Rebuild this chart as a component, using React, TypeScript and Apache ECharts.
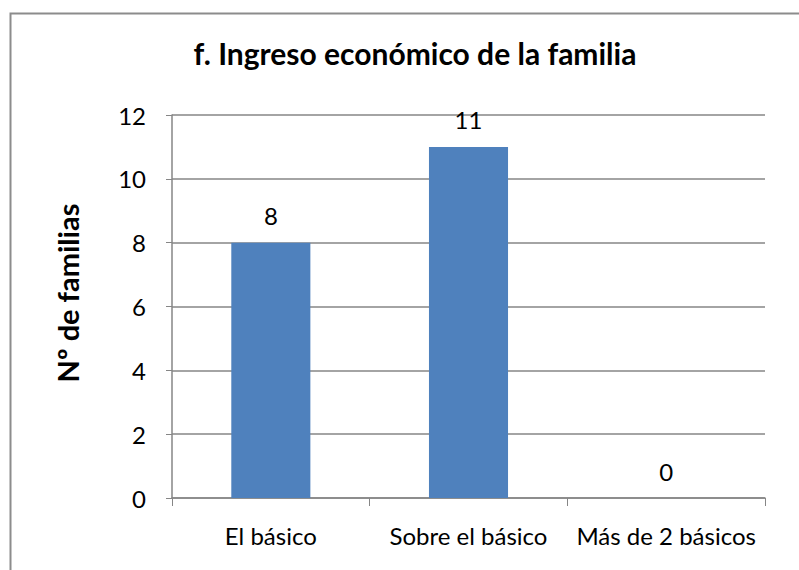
import React, { useEffect, useRef } from "react";
import * as echarts from "echarts";

const categories = ["El básico", "Sobre el básico", "Más de 2 básicos"];
const values = [8, 11, 0];
const yTicks = { min: 0, max: 12, interval: 2 };
const titleText = "f. Ingreso económico de la familia";
const yAxisName = "Nº de familias";

export default function App() {
  const ref = useRef<HTMLDivElement>(null);
  useEffect(() => {
    if (!ref.current) return;
    const chart = echarts.init(ref.current, null, { renderer: "svg" });
    const font = "Lato, 'Open Sans', sans-serif";
    chart.setOption({
      animation: false,
      backgroundColor: "#ffffff",
      textStyle: { fontFamily: font },
      title: {
        text: titleText,
        left: 410,
        top: 33,
        textAlign: "center",
        textStyle: { fontSize: 30, fontWeight: "bold", color: "#000", fontFamily: font },
      },
      graphic: [
        {
          type: "rect",
          shape: { x: 10.5, y: 13.5, width: 900, height: 700 },
          style: { fill: "none", stroke: "#8c8c8c", lineWidth: 2 },
          silent: true,
        },
        {
          type: "text",
          x: 67,
          y: 293,
          rotation: Math.PI / 2,
          style: {
            text: yAxisName,
            fontSize: 29,
            fontWeight: "bold",
            fill: "#000",
            fontFamily: font,
            align: "center",
            verticalAlign: "middle",
          },
          silent: true,
        },
      ],
      grid: { left: 172, right: 34, top: 115, bottom: 72, containLabel: false },
      xAxis: {
        type: "category",
        data: categories,
        axisLine: { lineStyle: { color: "#868686", width: 1.5 } },
        axisTick: { show: true, length: 8, lineStyle: { color: "#868686" } },
        axisLabel: {
          interval: 0,
          hideOverlap: false,
          fontSize: 24,
          color: "#000",
          margin: 25,
          fontFamily: font,
        },
      },
      yAxis: {
        type: "value",
        min: yTicks.min,
        max: yTicks.max,
        interval: yTicks.interval,
        axisLine: { show: true, lineStyle: { color: "#868686", width: 1.5 } },
        axisTick: { show: true, length: 6, lineStyle: { color: "#868686" } },
        axisLabel: { fontSize: 24, color: "#000", margin: 26, fontFamily: font },
        splitLine: { lineStyle: { color: "#868686", width: 1.5 } },
      },
      series: [
        {
          type: "bar",
          data: values,
          barWidth: "40%",
          itemStyle: { color: "#4f81bd" },
          label: {
            show: true,
            position: "top",
            distance: 15,
            fontSize: 24,
            color: "#000",
            fontFamily: font,
          },
        },
      ],
    });
    return () => chart.dispose();
  }, []);
  return (
    <div
      ref={ref}
      style={{ position: "fixed", left: 0, top: 0, width: 799, height: 570 }}
    />
  );
}
